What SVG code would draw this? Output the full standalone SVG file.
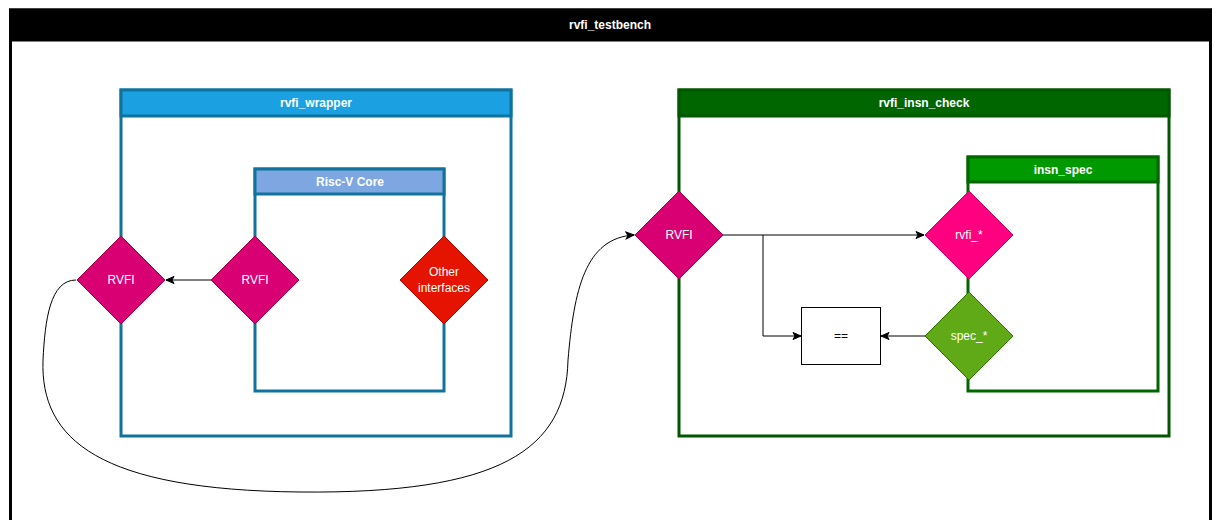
<svg xmlns="http://www.w3.org/2000/svg" width="1216" height="520" viewBox="0 0 1216 520">
  <style>
    text { font-family: "Liberation Sans", Arial, sans-serif; font-size: 12px; text-anchor: middle; dominant-baseline: central; }
    .hdr { font-weight: bold; fill: #ffffff; }
    .lbl { fill: #ffffff; }
    .conn { fill: none; stroke: #000000; stroke-width: 1; }
    .body { fill: #ffffff; stroke-width: 3; }
  </style>
  <defs>
    <marker id="arrow" markerWidth="10" markerHeight="10" refX="9" refY="5" orient="auto" markerUnits="userSpaceOnUse">
      <path d="M1,1.5 L9,5 L1,8.5 L3,5 z" fill="#000000" stroke="#000000" stroke-width="1"/>
    </marker>
  </defs>
  <rect x="0" y="0" width="1216" height="520" fill="#ffffff"/>

  <g id="rvfi_testbench">
    <rect x="10.5" y="10" width="1200" height="600" fill="#ffffff" stroke="#000000" stroke-width="3"/>
    <rect x="10.5" y="10" width="1200" height="30" fill="#000000" stroke="#000000" stroke-width="3"/>
    <text class="hdr" x="610" y="25">rvfi_testbench</text>
  </g>

  <g id="rvfi_wrapper">
    <rect class="body" x="121" y="90" width="390" height="346" stroke="#10739E"/>
    <rect x="121" y="90" width="390" height="26" fill="#1BA1E2" stroke="#10739E" stroke-width="3"/>
    <text class="hdr" x="316" y="103">rvfi_wrapper</text>
  </g>

  <g id="risc_v_core">
    <rect class="body" x="255" y="169" width="189" height="222" stroke="#10739E"/>
    <rect x="255" y="169" width="189" height="25" fill="#7EA6E0" stroke="#10739E" stroke-width="3"/>
    <text class="hdr" x="350" y="181.5" fill="#f0f0f0">Risc-V Core</text>
  </g>

  <g id="rvfi_insn_check">
    <rect class="body" x="679" y="90" width="490" height="346" stroke="#005700"/>
    <rect x="679" y="90" width="490" height="26" fill="#006600" stroke="#005700" stroke-width="3"/>
    <text class="hdr" x="924" y="103">rvfi_insn_check</text>
  </g>

  <g id="insn_spec">
    <rect class="body" x="968" y="157" width="190" height="234" stroke="#006600"/>
    <rect x="968" y="157" width="190" height="25" fill="#009900" stroke="#006600" stroke-width="3"/>
    <text class="hdr" x="1063" y="169.5">insn_spec</text>
  </g>

  <g id="connectors">
    <path class="conn" d="M211,280 L166,280" marker-end="url(#arrow)"/>
    <path class="conn" d="M76,280 C50,280 45,320 43,360 C40,440 100,490 300,492 C500,494 566,450 568,360 C574,290 585,238 634,235" marker-end="url(#arrow)"/>
    <path class="conn" d="M723,235 L924,235" marker-end="url(#arrow)"/>
    <path class="conn" d="M763,235 L763,336 L801,336" marker-end="url(#arrow)"/>
    <path class="conn" d="M925,336 L881,336" marker-end="url(#arrow)"/>
  </g>

  <g id="rvfi_left">
    <polygon points="121,236 165,280 121,324 77,280" fill="#D80073" stroke="#A50040"/>
    <text class="lbl" x="121" y="280">RVFI</text>
  </g>

  <g id="rvfi_core">
    <polygon points="255,236 299,280 255,324 211,280" fill="#D80073" stroke="#A50040"/>
    <text class="lbl" x="255" y="280">RVFI</text>
  </g>

  <g id="other_interfaces">
    <polygon points="444,236 488,280 444,324 400,280" fill="#E51400" stroke="#B20000"/>
    <text class="lbl" x="444" y="272">Other</text>
    <text class="lbl" x="444" y="288">interfaces</text>
  </g>

  <g id="rvfi_check">
    <polygon points="679,191 723,235 679,279 635,235" fill="#D80073" stroke="#A50040"/>
    <text class="lbl" x="679" y="235">RVFI</text>
  </g>

  <g id="rvfi_star">
    <polygon points="969,191 1013,235 969,279 925,235" fill="#FF0080" stroke="#CC0066"/>
    <text class="lbl" x="969" y="235">rvfi_*</text>
  </g>

  <g id="spec_star">
    <polygon points="969,292 1013,336 969,380 925,336" fill="#60A917" stroke="#2D7600"/>
    <text class="lbl" x="969" y="336">spec_*</text>
  </g>

  <g id="eq">
    <rect x="801.5" y="307.5" width="79" height="57" fill="#ffffff" stroke="#000000"/>
    <text x="841" y="336" fill="#000000">==</text>
  </g>
</svg>
